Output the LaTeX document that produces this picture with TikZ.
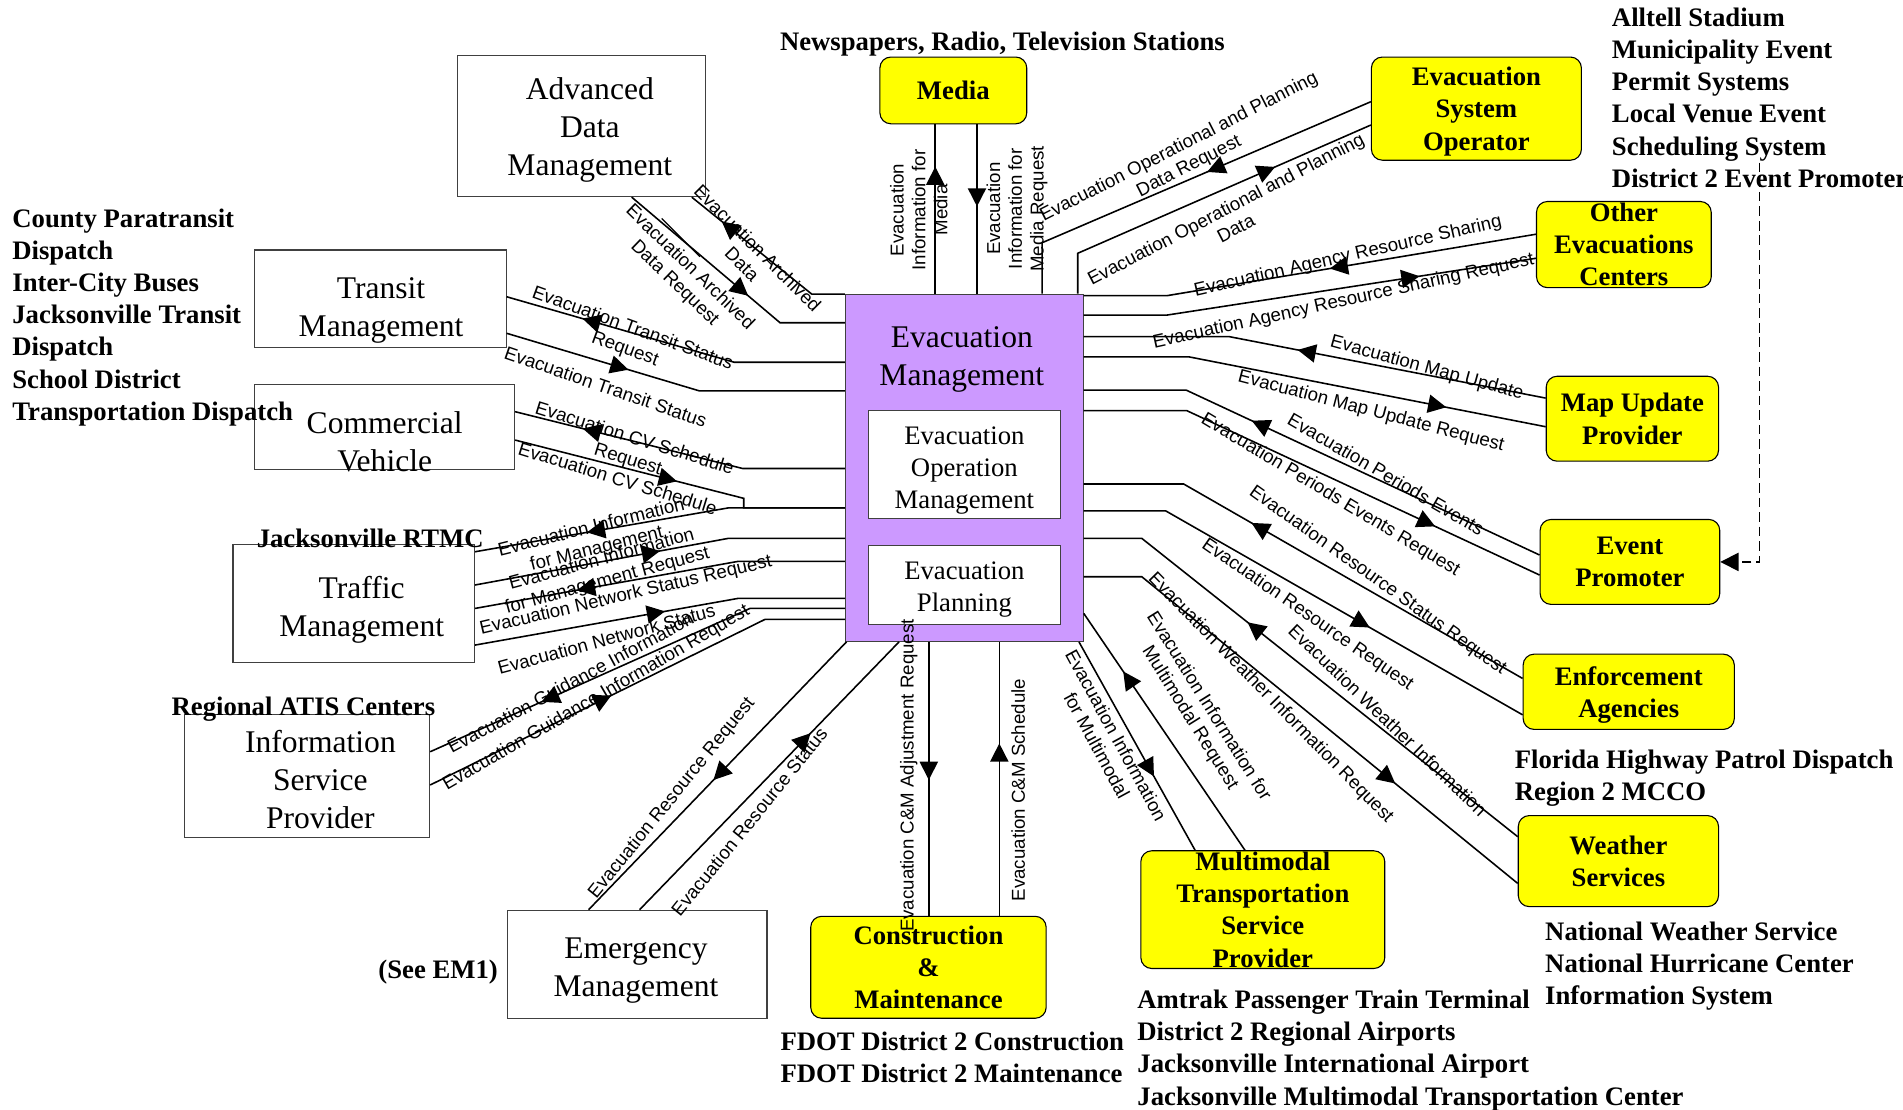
\documentclass[tikz,border=0pt]{standalone}
\usepackage{fontspec}
\setmainfont{Liberation Serif}
\setsansfont{Liberation Sans}
\usetikzlibrary{arrows.meta,decorations.markings}
\definecolor{evpurple}{RGB}{204,153,255}
\definecolor{evyellow}{RGB}{255,255,0}
\tikzset{
 box/.style={draw=black!75, line width=0.9pt, fill=white, inner sep=0pt},
 boxtext/.style={inner sep=0pt, align=center, font=\fontsize{26}{31.5}\selectfont},
 ybox/.style={draw=black, line width=0.9pt, fill=evyellow, rounded corners=9pt, inner sep=0pt, text depth=0pt, align=center, font=\fontsize{22}{26.5}\selectfont\bfseries},
 flow/.style={line width=1.3pt},
 fwd/.style={flow, postaction={decorate}, decoration={markings, mark=at position #1 with {\arrow{Triangle[length=15pt,width=15pt]}}}},
 lab/.style={font=\sffamily\fontsize{15.4}{18}\selectfont, inner sep=0pt, align=center},
 note/.style={font=\fontsize{22}{26.5}\selectfont\bfseries, inner sep=0pt},
}
\begin{document}
\begin{tikzpicture}[x=1pt,y=-1pt]
\useasboundingbox (0,0) rectangle (1568,914);
\fill[white] (0,0) rectangle (1568,914);

% central node
\node[box, fill=evpurple, minimum width=196pt, minimum height=286pt] (EM) at (794.5,385.4) {};
\node[boxtext, font=\fontsize{26}{31}\selectfont] (EMt) at (792.5,296) {Evacuation\\Management};
\node[box, minimum width=158pt, minimum height=89pt] (EOM) at (794.6,382.9) {};
\node[boxtext, font=\fontsize{22}{26.5}\selectfont] (EOMt) at (794.6,387.5) {Evacuation\\Operation\\Management};
\node[box, minimum width=158pt, minimum height=65pt] (EPl) at (794.6,482) {};
\node[boxtext, font=\fontsize{22}{26.5}\selectfont] (EPlt) at (794.6,486) {Evacuation\\Planning};

% white boxes
\node[box, minimum width=204pt, minimum height=116pt] (ADM) at (479,104) {};
\node[boxtext] (ADMt) at (486,107) {Advanced\\Data\\Management};
\node[box, minimum width=207pt, minimum height=80pt] (TM) at (313.5,246) {};
\node[boxtext] (TMt) at (314,255.5) {Transit\\Management};
\node[box, minimum width=214pt, minimum height=70pt] (CV) at (317,352) {};
\node[boxtext] (CVt) at (317,364) {Commercial\\Vehicle};
\node[box, minimum width=199pt, minimum height=97pt] (TrM) at (291.5,497.5) {};
\node[boxtext] (TrMt) at (298,502.5) {Traffic\\Management};
\node[box, minimum width=202pt, minimum height=101pt] (ISP) at (253,639.5) {};
\node[boxtext] (ISPt) at (264,642.5) {Information\\Service\\Provider};
\node[box, minimum width=214pt, minimum height=89pt] (EmM) at (525,794.5) {};
\node[boxtext] (EmMt) at (524,799.5) {Emergency\\Management};

% yellow terminators
\node[ybox, minimum width=121pt, minimum height=55pt] (Media) at (785.5,74.5) {Media};
\node[ybox, minimum width=173pt, minimum height=85pt] (ESO) at (1216.5,89.5) {Evacuation\\System\\Operator};
\node[ybox, minimum width=144pt, minimum height=71pt] (OEC) at (1338,201.5) {Other\\Evacuations\\Centers};
\node[ybox, minimum width=142pt, minimum height=70pt] (MUP) at (1345,345) {Map Update\\Provider};
\node[ybox, minimum width=148pt, minimum height=70pt] (EvP) at (1343,463) {Event\\Promoter};
\node[ybox, minimum width=174pt, minimum height=62pt] (EA) at (1342,570) {Enforcement\\Agencies};
\node[ybox, minimum width=165pt, minimum height=75pt] (WS) at (1333.5,709.5) {Weather\\Services};
\node[ybox, minimum width=201pt, minimum height=97pt] (MTSP) at (1040.5,749.5) {Multimodal\\Transportation\\Service\\Provider};
\node[ybox, minimum width=194pt, minimum height=84pt] (CM) at (765,797) {Construction\\\&\\Maintenance};

% top connectors
\draw[fwd=0.75] (EM.north -| 770.6,0) -- (Media.south -| 770.6,0);
\draw[fwd=0.485] (Media.south -| 805,0) -- (EM.north -| 805,0);
\draw[fwd=0.436] (ESO.west |- 0,83.8) -- (858.6,200) -- (EM.north -| 858.6,0);
\draw[fwd=0.71] (EM.north -| 888,0) -- (888,208.7) -- (ESO.west |- 0,103);

% right connectors
\draw[fwd=0.457] (OEC.west |- 0,193) -- (961.6,243.6) -- (EM.east |- 0,243.6);
\draw[fwd=0.742] (EM.east |- 0,259.6) -- (961.6,259.6) -- (OEC.west |- 0,212.8);
\draw[fwd=0.54] (MUP.west |- 0,328) -- (1013,277.4) -- (EM.east |- 0,277.4);
\draw[fwd=0.784] (EM.east |- 0,294) -- (979.5,294) -- (MUP.west |- 0,351.6);
\draw[fwd=0.645] (EvP.west |- 0,457.3) -- (977.3,321.4) -- (EM.east |- 0,321.4);
\draw[fwd=0.766] (EM.east |- 0,338.4) -- (978,338.4) -- (EvP.west |- 0,473.8);
\draw[fwd=0.637] (EA.west |- 0,559) -- (975.3,398.8) -- (EM.east |- 0,398.8);
\draw[fwd=0.643] (EM.east |- 0,421) -- (960.6,421) -- (EA.west |- 0,589);
\draw[fwd=0.641] (WS.west |- 0,689.4) -- (940.8,443.6) -- (EM.east |- 0,443.6);
\draw[fwd=0.709] (EM.east |- 0,475.2) -- (940.8,475.2) -- (WS.west |- 0,727.9);
\draw[fwd=0.755] (MTSP.north -| 1025.8,0) -- (EM.east |- 0,505.4);
\draw[fwd=0.646] (EM.south -| 889,0) -- (MTSP.north -| 984.7,0);

% bottom connectors
\draw[fwd=0.504] (EM.south -| 765.3,0) -- (CM.north -| 765.3,0);
\draw[fwd=0.629] (CM.north -| 823.4,0) -- (EM.south -| 823.4,0);
\draw[fwd=0.516] (EM.south -| 697.5,0) -- (EmM.north -| 485,0);
\draw[fwd=0.659] (EmM.north -| 527,0) -- (EM.south -| 740.8,0);

% left connectors
\draw[fwd=0.589] (ADM.south -| 520.5,0) -- (642.7,265.9) -- (EM.west |- 0,265.9);
\draw[fwd=0.795] (EM.west |- 0,242.3) -- (668.8,242.3) -- (ADM.south -| 570,0);
\draw[line width=1pt] (545.2,179.9) -- (576.8,211.5);
\draw[fwd=0.773] (EM.west |- 0,298.5) -- (605,298.5) -- (TM.east |- 0,244.5);
\draw[fwd=0.367] (TM.east |- 0,274.6) -- (576,322) -- (EM.west |- 0,322);
\draw[fwd=0.793] (EM.west |- 0,386) -- (611.8,386) -- (CV.east |- 0,339.2);
\draw[fwd=0.482] (CV.east |- 0,362.6) -- (612.8,410.6) -- (612.8,418.5) -- (EM.west |- 0,418.5);
\draw[fwd=0.696] (EM.west |- 0,418.5) -- (600,418.5) -- (TrM.east |- 0,454.6);
\draw[fwd=0.503] (TrM.east |- 0,482) -- (600,443.6) -- (EM.west |- 0,443.6);
\draw[fwd=0.723] (EM.west |- 0,462.5) -- (608.4,462.5) -- (TrM.east |- 0,501.3);
\draw[fwd=0.516] (TrM.east |- 0,531.5) -- (608.4,493) -- (EM.west |- 0,493);
\draw[fwd=0.726] (EM.west |- 0,501.3) -- (618,501.3) -- (ISP.east |- 0,619.4);
\draw[fwd=0.446] (ISP.east |- 0,646.8) -- (630.4,510.3) -- (EM.west |- 0,510.3);

% dashed link from event list
\coordinate (evsrc) at (1450,134);
\draw[line width=1.1pt, dash pattern=on 8pt off 4pt, -{Triangle[length=15pt,width=15pt]}] (evsrc) -- (1450,463) -- (EvP.east |- 0,463);

% flow labels
\node[lab, rotate=90] (l1) at (757,173) {Evacuation\\Information for\\Media};
\node[lab, rotate=90] (l2) at (838,172) {Evacuation\\Information for\\Media Request};
\node[lab, rotate=27] (l3) at (975.7,129.4) {Evacuation Operational and Planning\\Data Request};
\node[lab, rotate=27.5] (l4) at (1014,180) {Evacuation Operational and Planning\\Data};
\node[lab, rotate=12.8] (l5) at (1110.7,211.5) {Evacuation Agency Resource Sharing};
\node[lab, rotate=12.4] (l6) at (1107,248.5) {Evacuation Agency Resource Sharing Request};
\node[lab, rotate=-15.4] (l7) at (1175.6,303.5) {Evacuation Map Update};
\node[lab, rotate=-14.7] (l8) at (1129.7,339.2) {Evacuation Map Update Request};
\node[lab, rotate=-30.1] (l9) at (1142,390.7) {Evacuation Periods Events};
\node[lab, rotate=-31] (l10) at (1096.1,407.9) {Evacuation Periods Events Request};
\node[lab, rotate=-35.5] (l11) at (1135.1,478.6) {Evacuation Resource Status Request};
\node[lab, rotate=-34.7] (l12) at (1077.3,506.8) {Evacuation Resource Request};
\node[lab, rotate=-43.9] (l13) at (1143.5,593.3) {Evacuation Weather Information};
\node[lab, rotate=-45.6] (l14) at (1046.8,575.4) {Evacuation Weather Information Request};
\node[lab, rotate=-58] (l15) at (988,587) {Evacuation Information for\\Multimodal Request};
\node[lab, rotate=-61.5] (l16) at (911.8,610) {Evacuation Information\\for Multimodal};
\node[lab, rotate=90] (l17) at (748.8,639) {Evacuation C\&M Adjustment Request};
\node[lab, rotate=90] (l18) at (839,651) {Evacuation C\&M Schedule};
\node[lab, rotate=51] (l19) at (553.7,657.8) {Evacuation Resource Request};
\node[lab, rotate=51] (l20) at (617.3,677) {Evacuation Resource Status};
\node[lab, rotate=-44] (l21) at (562,227) {Evacuation Archived\\Data Request};
\node[lab, rotate=-45] (l22) at (618,211) {Evacuation Archived\\Data};
\node[lab, rotate=-20] (l23) at (518,279.5) {Evacuation Transit Status\\Request};
\node[lab, rotate=-19] (l24) at (499.1,318.6) {Evacuation Transit Status};
\node[lab, rotate=-17.3] (l25) at (520,370.5) {Evacuation CV Schedule\\Request};
\node[lab, rotate=-17.1] (l26) at (509.1,394.2) {Evacuation CV Schedule};
\node[lab, rotate=14] (l27) at (489.6,444) {Evacuation Information\\for Management};
\node[lab, rotate=15.3] (l28) at (498.2,470) {Evacuation Information\\for Management Request};
\node[lab, rotate=13.2] (l29) at (515.7,491) {Evacuation Network Status Request};
\node[lab, rotate=15.1] (l30) at (499.7,526.6) {Evacuation Network Status};
\node[lab, rotate=28.3] (l31) at (470,562.4) {Evacuation Guidance Information};
\node[lab, rotate=30.2] (l32) at (491.4,575.4) {Evacuation Guidance Information Request};

% bold annotations
\node[note] (newsp) at (826,36.5) {Newspapers, Radio, Television Stations};
\node[note, align=left, anchor=west] (alltell) at (1328,80.5) {Alltell Stadium\\Municipality Event\\Permit Systems\\Local Venue Event\\Scheduling System\\District 2 Event Promoter};
\node[note, align=left, anchor=west] (county) at (10,261.5) {County Paratransit\\Dispatch\\Inter-City Buses\\Jacksonville Transit\\Dispatch\\School District\\Transportation Dispatch};
\node[note] (rtmc) at (305,443.5) {Jacksonville RTMC};
\node[note] (atis) at (250,584.5) {Regional ATIS Centers};
\node[note] (seeem) at (361,801) {(See EM1)};
\node[note, align=left, anchor=west] (fhp) at (1248,641) {Florida Highway Patrol Dispatch\\Region 2 MCCO};
\node[note, align=left, anchor=west] (nws) at (1273,796) {National Weather Service\\National Hurricane Center\\Information System};
\node[note, align=left, anchor=west] (fdot) at (643,871.5) {FDOT District 2 Construction\\FDOT District 2 Maintenance};
\node[note, align=left, anchor=west] (amtrak) at (937,865.5) {Amtrak Passenger Train Terminal\\District 2 Regional Airports\\Jacksonville International Airport\\Jacksonville Multimodal Transportation Center};
\end{tikzpicture}
\end{document}
